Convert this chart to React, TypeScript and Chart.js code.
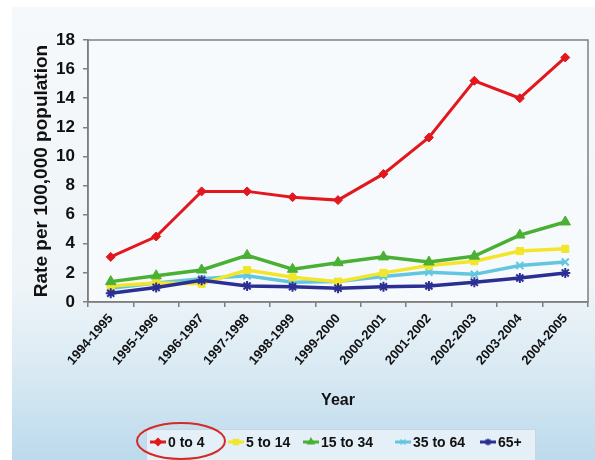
import React, { useEffect, useRef } from 'react';
import { Chart, registerables } from 'chart.js';
import { drawPoint } from 'chart.js/helpers';

Chart.register(...registerables);

// Fiscal years on the category axis
const years = [
  '1994-1995', '1995-1996', '1996-1997', '1997-1998', '1998-1999', '1999-2000',
  '2000-2001', '2001-2002', '2002-2003', '2003-2004', '2004-2005',
];

// Rate per 100,000 population by age group
const ageGroups = ['0 to 4', '5 to 14', '15 to 34', '35 to 64', '65+'];
const rate0to4 = [3.1, 4.5, 7.6, 7.6, 7.2, 7.0, 8.8, 11.3, 15.2, 14.0, 16.8];
const rate5to14 = [1.1, 1.3, 1.25, 2.2, 1.7, 1.4, 2.0, 2.5, 2.8, 3.5, 3.65];
const rate15to34 = [1.4, 1.8, 2.2, 3.2, 2.25, 2.7, 3.1, 2.75, 3.15, 4.6, 5.5];
const rate35to64 = [0.95, 1.3, 1.6, 1.8, 1.35, 1.4, 1.75, 2.05, 1.9, 2.5, 2.75];
const rate65plus = [0.6, 1.0, 1.5, 1.1, 1.05, 0.95, 1.05, 1.1, 1.35, 1.65, 2.0];

const yMin = 0;
const yMax = 18;
const yStep = 2;

const seriesColors = ['#e3171e', '#f2e52a', '#4ab033', '#62c6e0', '#2b2f94'];
const seriesMarkers = ['rectRot', 'rect', 'triangle', 'crossRot', 'star'];
const seriesValues = [rate0to4, rate5to14, rate15to34, rate35to64, rate65plus];

const FONT = '"Liberation Sans", Arial, sans-serif';

// Slide-like backdrop and the framed plot area
const backdropPlugin = {
  id: 'backdrop',
  beforeDraw(chart: any) {
    const { ctx, width, height, chartArea } = chart;
    ctx.save();
    ctx.fillStyle = '#ffffff';
    ctx.fillRect(0, 0, width, height);
    const g = ctx.createLinearGradient(0, 7, 0, height);
    g.addColorStop(0, '#f6f9fb');
    g.addColorStop(0.62, '#eef4f8');
    g.addColorStop(0.78, '#dcebf4');
    g.addColorStop(1, '#bcdaec');
    ctx.fillStyle = g;
    ctx.fillRect(12, 7, width - 12, height - 7);
    ctx.fillStyle = '#f7fafc';
    ctx.fillRect(chartArea.left, chartArea.top, chartArea.right - chartArea.left, chartArea.bottom - chartArea.top);
    ctx.restore();
  },
  afterDatasetsDraw(chart: any) {
    const { ctx, chartArea } = chart;
    ctx.save();
    ctx.strokeStyle = '#7f7f7f';
    ctx.lineWidth = 1.5;
    ctx.strokeRect(chartArea.left, chartArea.top, chartArea.right - chartArea.left, chartArea.bottom - chartArea.top);
    ctx.restore();
  },
};

// Boxed legend under the axis, markers sitting on short line segments
const legendBoxPlugin = {
  id: 'legendBox',
  afterDraw(chart: any) {
    const { ctx } = chart;
    const starts = [150, 228, 303, 395, 480];
    const cy = 442;
    ctx.save();
    ctx.fillStyle = 'rgba(232, 241, 247, 0.9)';
    ctx.fillRect(146, 429, 389, 31);
    ctx.strokeStyle = '#c9d6df';
    ctx.lineWidth = 1;
    ctx.strokeRect(146.5, 429.5, 389, 31);
    ctx.font = `bold 14px ${FONT}`;
    ctx.textBaseline = 'middle';
    ctx.textAlign = 'left';
    chart.data.datasets.forEach((ds: any, i: number) => {
      const x0 = starts[i];
      const len = 16;
      ctx.strokeStyle = ds.borderColor;
      ctx.fillStyle = ds.borderColor;
      ctx.lineWidth = 3;
      ctx.beginPath();
      ctx.moveTo(x0, cy);
      ctx.lineTo(x0 + len, cy);
      ctx.stroke();
      ctx.lineWidth = 1.5;
      drawPoint(ctx, { pointStyle: ds.pointStyle, radius: 3.5, borderWidth: 1.5, rotation: 0 } as any, x0 + len / 2, cy);
      ctx.fillStyle = '#111111';
      ctx.fillText(ds.label, x0 + len + 2, cy + 1);
    });
    // red ellipse drawn around the first legend entry
    ctx.strokeStyle = '#d42a2a';
    ctx.lineWidth = 2;
    ctx.beginPath();
    ctx.ellipse(181, 441, 44, 18, 0, 0, Math.PI * 2);
    ctx.stroke();
    ctx.restore();
  },
};

export default function App() {
  const canvasRef = useRef<HTMLCanvasElement | null>(null);

  useEffect(() => {
    const canvas = canvasRef.current;
    if (!canvas) return;
    const chart = new Chart(canvas, {
      type: 'line',
      data: {
        labels: years,
        datasets: ageGroups.map((name, i) => ({
          label: name,
          data: seriesValues[i],
          borderColor: seriesColors[i],
          backgroundColor: seriesColors[i],
          pointBorderColor: seriesColors[i],
          pointBackgroundColor: seriesColors[i],
          pointStyle: seriesMarkers[i],
          pointRadius: i === 0 ? 4.5 : i === 2 ? 6 : 5,
          pointBorderWidth: i >= 3 ? 2 : 1,
          borderWidth: i === 0 ? 3 : 3.5,
          tension: 0,
          fill: false,
          order: i === 0 ? 0 : i === 2 ? 1 : i === 4 ? 2 : i === 1 ? 3 : 4,
        })),
      },
      options: {
        responsive: false,
        animation: false,
        devicePixelRatio: 1,
        layout: { padding: { top: 40, right: 7, left: 0, bottom: 0 } },
        plugins: {
          legend: { display: false },
          tooltip: { enabled: false },
        },
        scales: {
          x: {
            type: 'category',
            offset: true,
            grid: {
              offset: true,
              drawOnChartArea: false,
              drawTicks: true,
              tickLength: 5,
              color: '#7f7f7f',
              lineWidth: 1.5,
            },
            border: { display: true, color: '#7f7f7f', width: 1.5 },
            ticks: {
              color: '#111111',
              font: { family: FONT, size: 13, weight: 'bold' },
              minRotation: 49,
              maxRotation: 49,
              padding: 4,
              autoSkip: false,
            },
            title: {
              display: true,
              text: 'Year',
              color: '#111111',
              font: { family: FONT, size: 16, weight: 'bold' },
              padding: { top: 0, bottom: 50 },
            },
            afterFit(scale: any) {
              scale.height = 158;
            },
          },
          y: {
            min: yMin,
            max: yMax,
            grid: {
              drawOnChartArea: false,
              drawTicks: true,
              tickLength: 5,
              color: '#7f7f7f',
              lineWidth: 1.5,
            },
            border: { display: true, color: '#7f7f7f', width: 1.5 },
            ticks: {
              stepSize: yStep,
              color: '#111111',
              font: { family: FONT, size: 17, weight: 'bold' },
              padding: 8,
            },
            title: {
              display: true,
              text: 'Rate per 100,000 population',
              color: '#111111',
              font: { family: FONT, size: 19, weight: 'bold' },
              padding: { top: 30, bottom: 0 },
            },
            afterFit(scale: any) {
              scale.width = 88;
            },
          },
        },
      },
      plugins: [backdropPlugin, legendBoxPlugin],
    } as any);
    return () => chart.destroy();
  }, []);

  return (
    <div style={{ position: 'absolute', left: 0, top: 0, width: 595, height: 460 }}>
      <canvas ref={canvasRef} width={595} height={460} style={{ display: 'block', width: 595, height: 460 }} />
    </div>
  );
}
